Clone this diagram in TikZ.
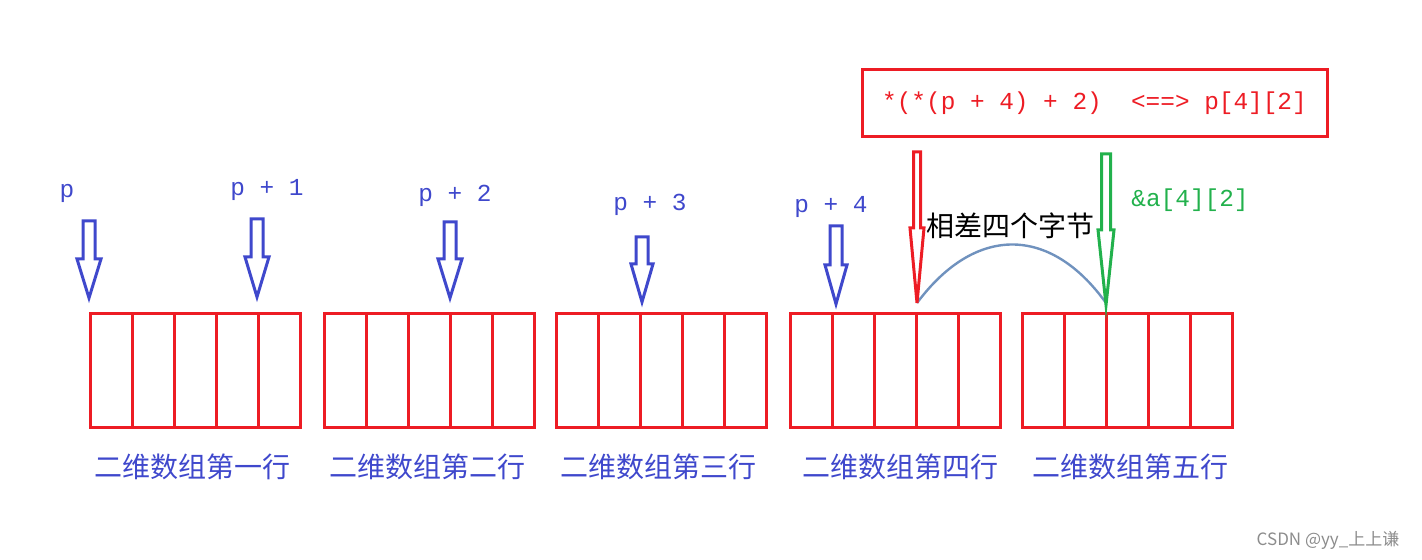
\documentclass[tikz,border=0pt]{standalone}
\usepackage{fontspec}
\newfontfamily\cjkfont{Noto Sans CJK SC}
\newfontfamily\codefont{Liberation Mono}
\usetikzlibrary{positioning}

\definecolor{paintred}{RGB}{237,28,36}
\definecolor{paintblue}{RGB}{63,72,204}
\definecolor{paintgreen}{RGB}{34,177,76}
\definecolor{curveblue}{RGB}{112,146,190}

% hollow down arrow: colour, x, top, head top, tip, half shaft, half head
\newcommand{\blockarrow}[7]{%
  \draw[#1, line width=1.5pt, line join=miter]
    ({#2-#6},#3) -- ({#2+#6},#3) -- ({#2+#6},#4) -- ({#2+#7},#4)
    -- (#2,#5) -- ({#2-#7},#4) -- ({#2-#6},#4) -- cycle;}

\begin{document}
\begin{tikzpicture}[
    x=0.5pt, y=-0.5pt,
    cell/.style={draw=paintred, line width=1.5pt, minimum width=21pt, minimum height=57pt, inner sep=0pt},
    rowlabel/.style={text=paintblue, font=\cjkfont\fontsize{14}{16}\selectfont},
    ptrlabel/.style={text=paintblue, font=\codefont\fontsize{12.2}{14}\selectfont},
    exprbox/.style={draw=paintred, line width=1.5pt, minimum width=232.5pt, minimum height=33.5pt, inner sep=0pt}
  ]
  \useasboundingbox (0,0) rectangle (1422,560);

  % the five rows of the array
  \foreach \r/\x in {1/90,2/324,3/556,4/790,5/1022} {
    \foreach \c in {0,...,4}
      \node[cell] (c\r-\c) at ({\x+21+42*\c},371) {};
  }
  \foreach \r/\x/\t in {1/192/一,2/427/二,3/658/三,4/900/四,5/1130/五}
    \node[rowlabel] (lab\r) at (\x,467) {二维数组第{\t}行};

  % row pointers
  \node[ptrlabel] (p0) at (67,193) {p};
  \node[ptrlabel] (p1) at (267,190) {p + 1};
  \node[ptrlabel] (p2) at (455,196) {p + 2};
  \node[ptrlabel] (p3) at (650,205) {p + 3};
  \node[ptrlabel] (p4) at (831,207) {p + 4};
  \blockarrow{paintblue}{89}{221}{259}{298}{6}{12}
  \blockarrow{paintblue}{257}{219}{257}{297}{6}{12}
  \blockarrow{paintblue}{450}{222}{259}{298}{6}{12}
  \blockarrow{paintblue}{642}{237}{264}{302}{6}{11}
  \blockarrow{paintblue}{836}{226}{265}{304}{6}{11}

  % element p[4][2]
  \node[exprbox, text=paintred, font=\codefont\fontsize{12.2}{14}\selectfont] (expr) at (1094.5,103.5)
    {*(*(p + 4) + 2)~ <==> p[4][2]};
  \node[text=paintgreen, font=\codefont\fontsize{12.2}{14}\selectfont] (addr) at (1190,200) {\&a[4][2]};
  \node[font=\cjkfont\fontsize{14}{16}\selectfont] (diff) at (1010,226) {相差四个字节};

  \coordinate (redtip) at (917,303);
  \coordinate (greentip) at (1106,303);
  \draw[curveblue, line width=1.2pt] (redtip) .. controls (975,225) and (1050,225) .. (greentip);
  \blockarrow{paintred}{917}{152}{228}{303}{3.5}{7}
  \blockarrow{paintgreen}{1106}{154}{230}{305}{4.5}{8}

  \node[text=black!45, font=\cjkfont\fontsize{8.5}{10}\selectfont] (mark) at (1328,540) {CSDN @yy\_上上谦};
\end{tikzpicture}
\end{document}
